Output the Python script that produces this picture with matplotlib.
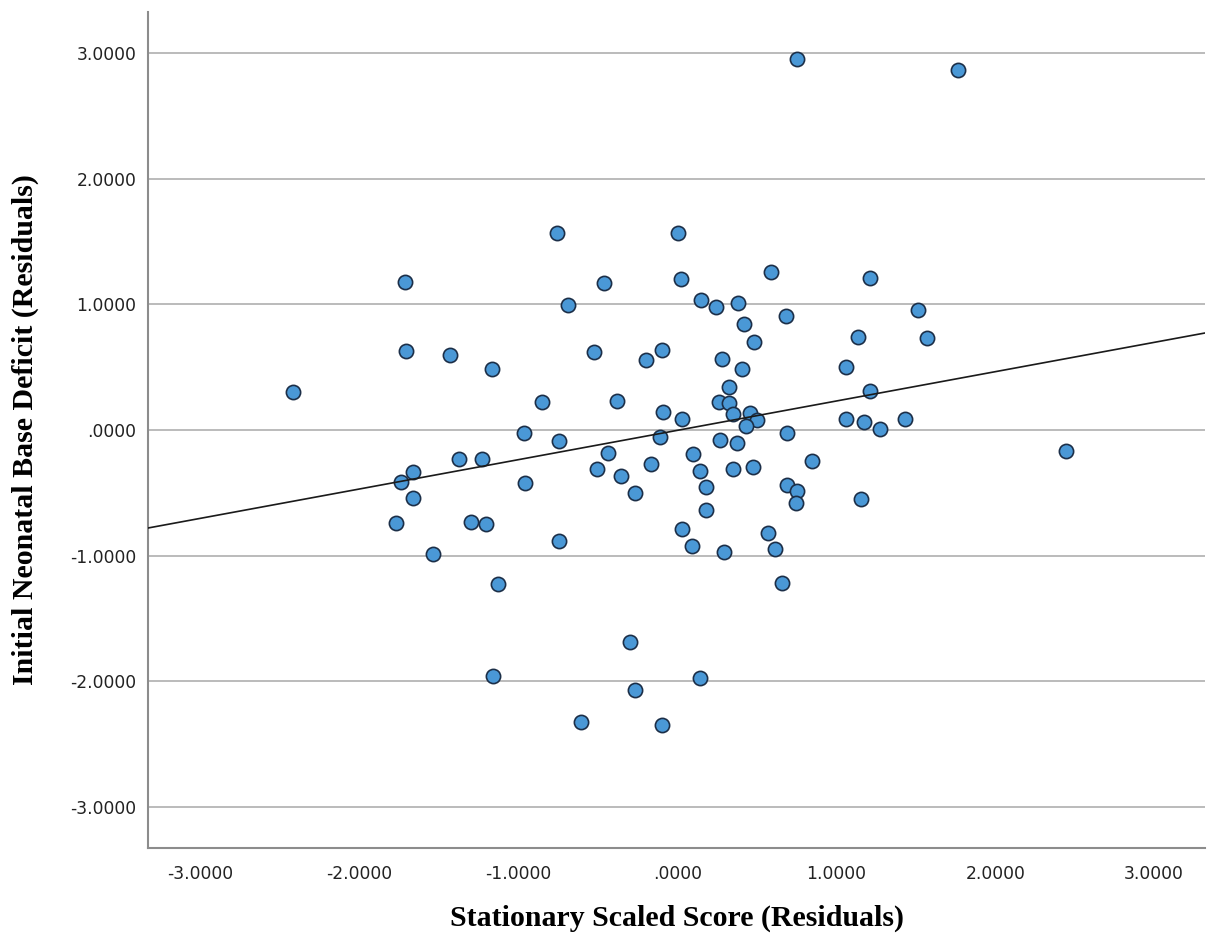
import numpy as np
import matplotlib.pyplot as plt

# -------------------------
# Data (residuals)
# -------------------------
stationary = [
    0.755, 1.767, -0.755, 0.006, -1.711, -0.459, 0.025, -0.686, 0.151, 0.245,
    0.384, 0.591, 1.214, 1.516, 0.686, 0.421, 0.484, 1.138, 1.572, -1.704,
    -1.428, -0.522, -0.195, -0.094, 0.283, 0.409, 1.063, -1.164, -2.415, -0.849,
    -0.377, -0.088, 0.031, 0.327, 1.214, 0.264, 0.327, 0.352, 0.459, 0.503,
    0.434, 0.692, 1.063, 1.176, 1.277, 1.434, 2.447, -0.962, -0.742, -0.107,
    0.270, 0.377, -1.371, -1.226, -1.660, -1.736, -1.660, -1.767, -1.296, -1.201,
    -0.956, -1.535, -1.126, -1.157, -0.434, 0.101, -0.503, -0.352, -0.164, 0.145,
    -0.264, 0.182, 0.182, 0.031, 0.094, -0.742, -0.296, 0.145, -0.264, -0.604,
    -0.094, 0.352, 0.478, 0.849, 0.692, 0.755, 0.748, 1.157, 0.296, 0.572,
    0.616, 0.660,
]
base_deficit = [
    2.959, 2.864, 1.567, 1.567, 1.177, 1.169, 1.201, 0.994, 1.034, 0.979,
    1.010, 1.257, 1.209, 0.955, 0.907, 0.843, 0.700, 0.740, 0.732, 0.628,
    0.597, 0.621, 0.557, 0.636, 0.565, 0.485, 0.501, 0.485, 0.302, 0.223,
    0.231, 0.143, 0.088, 0.342, 0.310, 0.223, 0.215, 0.127, 0.135, 0.080,
    0.032, -0.024, 0.088, 0.064, 0.008, 0.088, -0.167, -0.024, -0.088, -0.056,
    -0.080, -0.103, -0.231, -0.231, -0.334, -0.414, -0.541, -0.740, -0.732, -0.748,
    -0.422, -0.986, -1.225, -1.957, -0.183, -0.191, -0.310, -0.366, -0.270, -0.326,
    -0.501, -0.453, -0.636, -0.788, -0.923, -0.883, -1.687, -1.973, -2.068, -2.323,
    -2.347, -0.310, -0.294, -0.247, -0.438, -0.485, -0.581, -0.549, -0.971, -0.819,
    -0.947, -1.217,
]
ticks = [-3, -2, -1, 0, 1, 2, 3]
tick_labels = ["-3.0000", "-2.0000", "-1.0000", ".0000", "1.0000", "2.0000", "3.0000"]

x = np.array(stationary)
y = np.array(base_deficit)

# -------------------------
# Figure
# -------------------------
fig = plt.figure(figsize=(12.11, 9.40), dpi=100)
ax = fig.add_axes([148 / 1211, 1 - 848 / 940, 1057 / 1211, 836 / 940])

xlim = (-3.33, 3.32)
ylim = (-3.33, 3.33)
ax.set_xlim(xlim)
ax.set_ylim(ylim)

# horizontal grid only
for t in ticks:
    ax.axhline(t, color="#a8a8a8", lw=1.1, zorder=1)

ax.scatter(x, y, s=105, facecolor="#4a98d6", edgecolor="#1c2f48",
           linewidth=1.2, zorder=3)

# linear fit line
b, a = np.polyfit(x, y, 1)
xx = np.array(xlim)
ax.plot(xx, a + b * xx, color="#1a1a1a", lw=1.2, zorder=4)

ax.set_xticks(ticks)
ax.set_xticklabels(tick_labels)
ax.set_yticks(ticks)
ax.set_yticklabels(tick_labels)
ax.tick_params(axis="both", length=0, labelsize=12.3, labelcolor="#222222")
ax.tick_params(axis="x", pad=12)
ax.tick_params(axis="y", pad=8.5)

for side in ["top", "right"]:
    ax.spines[side].set_visible(False)
for side in ["left", "bottom"]:
    ax.spines[side].set_color("#8c8c8c")
    ax.spines[side].set_linewidth(1.5)

ax.set_xlabel("Stationary Scaled Score (Residuals)", family="Liberation Serif",
              fontweight="bold", fontsize=21.5, va="center")
ax.xaxis.set_label_coords(0.5, -(918 - 848) / 836)
ax.set_ylabel("Initial Neonatal Base Deficit (Residuals)", family="Liberation Serif",
              fontweight="bold", fontsize=21.5, va="center")
ax.yaxis.set_label_coords(-(148 - 25) / 1057, 0.5)

plt.savefig("out.png", dpi=100)
plt.close()
